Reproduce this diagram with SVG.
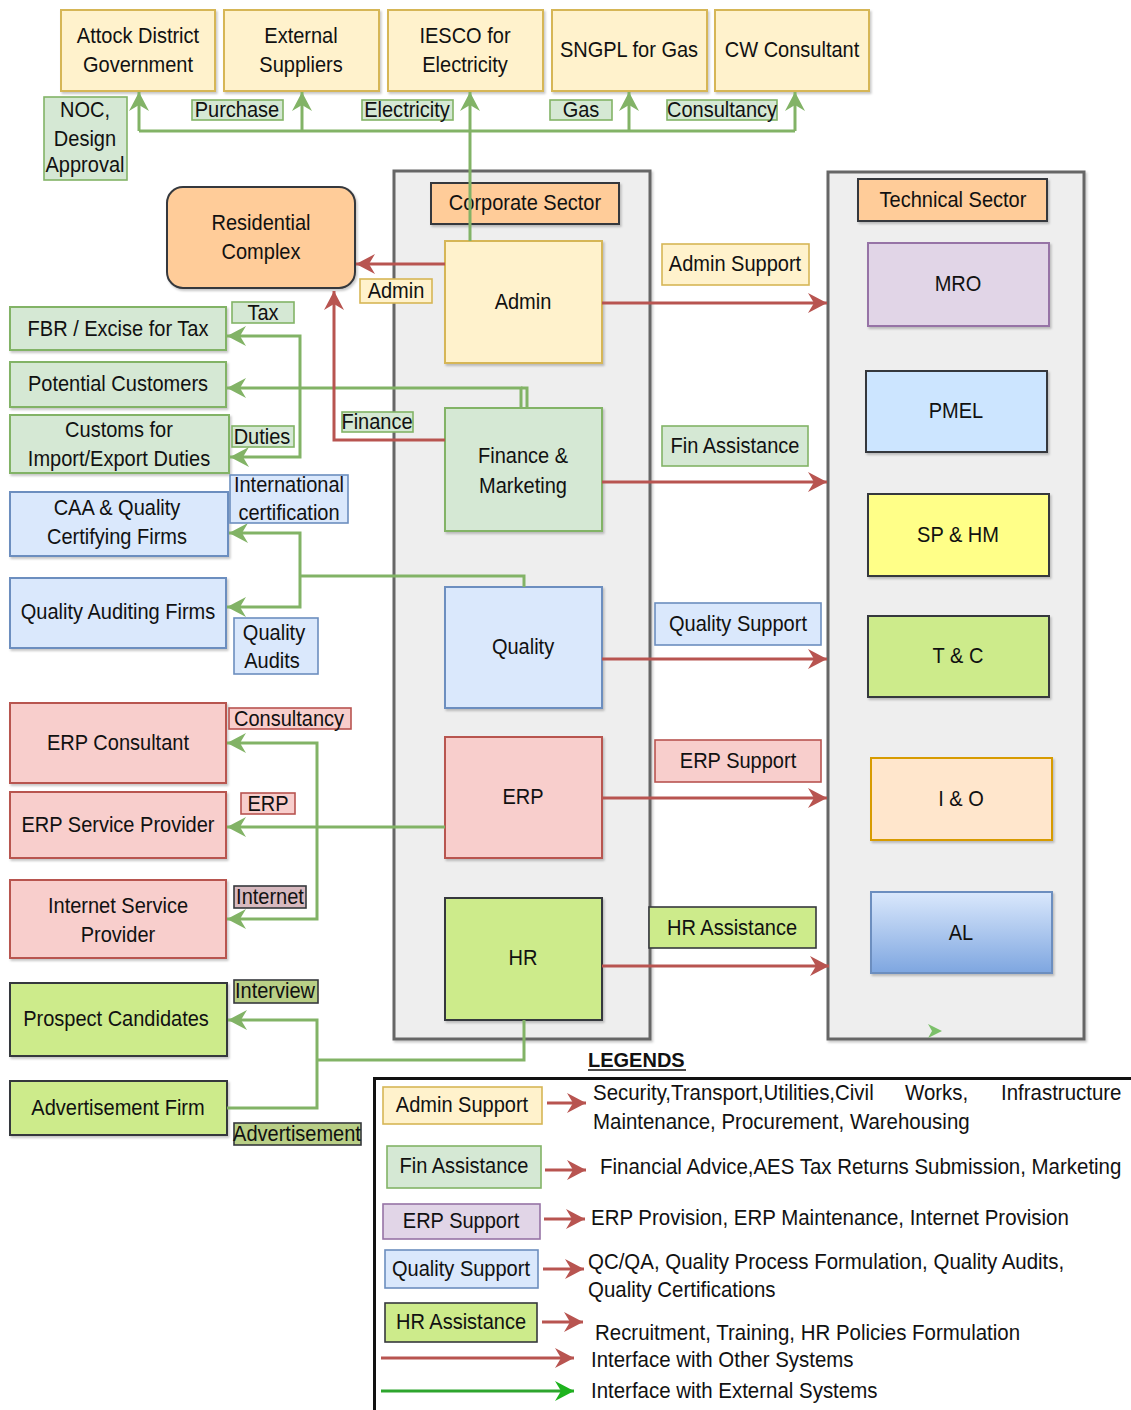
<svg xmlns="http://www.w3.org/2000/svg" width="1131" height="1410" viewBox="0 0 1131 1410">
  <defs>
    <marker id="ah-red" markerUnits="userSpaceOnUse" viewBox="-20 -11 22 22" markerWidth="22" markerHeight="22" refX="0" refY="0" orient="auto">
      <path d="M0,0 L-19,-10 L-13,0 L-19,10 Z" fill="#B85450"/>
    </marker>
    <marker id="ah-green" markerUnits="userSpaceOnUse" viewBox="-20 -11 22 22" markerWidth="22" markerHeight="22" refX="0" refY="0" orient="auto">
      <path d="M0,0 L-19,-10 L-13,0 L-19,10 Z" fill="#82B366"/>
    </marker>
    <marker id="ah-bright" markerUnits="userSpaceOnUse" viewBox="-20 -11 22 22" markerWidth="22" markerHeight="22" refX="0" refY="0" orient="auto">
      <path d="M0,0 L-19,-10 L-13,0 L-19,10 Z" fill="#1DB31D"/>
    </marker>
    <linearGradient id="al-grad" x1="0" y1="0" x2="0" y2="1">
      <stop offset="0" stop-color="#DAE8FC"/>
      <stop offset="1" stop-color="#7EA6E0"/>
    </linearGradient>
    <filter id="sh" x="-10%" y="-10%" width="120%" height="130%">
      <feDropShadow dx="1.5" dy="2" stdDeviation="1.2" flood-color="#000" flood-opacity="0.22"/>
    </filter>
  </defs>
  <style>
    .box { stroke-width: 2; filter: url(#sh); }
    .lab { stroke-width: 1.6; }
    .yel { fill: #FFF2CC; stroke: #D6B656; }
    .grn { fill: #D5E8D4; stroke: #82B366; }
    .blu { fill: #DAE8FC; stroke: #6C8EBF; }
    .red { fill: #F8CECC; stroke: #B85450; }
    .lim { fill: #CDEB8B; stroke: #36393D; }
    .org { fill: #FFCC99; stroke: #36393D; }
    .pur { fill: #E1D5E7; stroke: #9673A6; }
    .sky { fill: #CCE5FF; stroke: #36393D; }
    .lem { fill: #FFFF88; stroke: #36393D; }
    .peach { fill: #FFE6CC; stroke: #D79B00; }
    .sec { fill: #EEEEEE; stroke: #666666; stroke-width: 3; filter: url(#sh); }
    .t { font-family: "Liberation Sans", Arial, sans-serif; font-size: 22px; fill: #111; text-anchor: middle;
         transform-box: fill-box; transform-origin: center; transform: scaleX(0.91); }
    .l { text-anchor: start; transform-origin: left center; transform: scaleX(0.93); }
    .hd { font-family: "Liberation Sans", Arial, sans-serif; font-size: 20px; font-weight: bold; fill: #111; }
    .ge { fill: none; stroke: #82B366; stroke-width: 3; }
    .re { fill: none; stroke: #B85450; stroke-width: 3; }
  </style>

  <rect width="1131" height="1410" fill="#FFFFFF"/>

  <!-- sector containers -->
  <g id="n-corporate">
    <rect class="sec" x="394" y="171" width="256" height="868"/>
    <rect class="box org" x="431" y="183" width="188" height="41"/>
    <text class="t" x="525" y="210">Corporate Sector</text>
  </g>
  <g id="n-technical">
    <rect class="sec" x="828" y="172" width="256" height="867"/>
    <rect class="box org" x="858" y="179" width="189" height="42"/>
    <text class="t" x="953" y="207">Technical Sector</text>
  </g>

  <!-- external parties along the top -->
  <g id="n-attock">
    <rect class="box yel" x="61" y="10" width="154" height="81"/>
    <text class="t" x="138" y="43">Attock District</text>
    <text class="t" x="138" y="72">Government</text>
  </g>
  <g id="n-external">
    <rect class="box yel" x="224" y="10" width="155" height="81"/>
    <text class="t" x="301" y="43">External</text>
    <text class="t" x="301" y="72">Suppliers</text>
  </g>
  <g id="n-iesco">
    <rect class="box yel" x="388" y="10" width="155" height="81"/>
    <text class="t" x="465" y="43">IESCO for</text>
    <text class="t" x="465" y="72">Electricity</text>
  </g>
  <g id="n-sngpl">
    <rect class="box yel" x="552" y="10" width="155" height="81"/>
    <text class="t" x="629" y="57">SNGPL for Gas</text>
  </g>
  <g id="n-cw">
    <rect class="box yel" x="715" y="10" width="154" height="81"/>
    <text class="t" x="792" y="57">CW Consultant</text>
  </g>

  <g id="n-residential">
    <rect class="box org" x="167" y="187" width="188" height="101" rx="16" ry="16"/>
    <text class="t" x="261" y="230">Residential</text>
    <text class="t" x="261" y="259">Complex</text>
  </g>

  <!-- corporate departments -->
  <g id="n-admin">
    <rect class="box yel" x="445" y="241" width="157" height="122"/>
    <text class="t" x="523" y="309">Admin</text>
  </g>
  <g id="n-finance">
    <rect class="box grn" x="445" y="408" width="157" height="123"/>
    <text class="t" x="523" y="463">Finance &amp;</text>
    <text class="t" x="523" y="493">Marketing</text>
  </g>
  <g id="n-quality">
    <rect class="box blu" x="445" y="587" width="157" height="121"/>
    <text class="t" x="523" y="654">Quality</text>
  </g>
  <g id="n-erp">
    <rect class="box red" x="445" y="737" width="157" height="121"/>
    <text class="t" x="523" y="804">ERP</text>
  </g>
  <g id="n-hr">
    <rect class="box lim" x="445" y="898" width="157" height="122"/>
    <text class="t" x="523" y="965">HR</text>
  </g>

  <!-- technical units -->
  <g id="n-mro">
    <rect class="box pur" x="868" y="243" width="181" height="83"/>
    <text class="t" x="958" y="291">MRO</text>
  </g>
  <g id="n-pmel">
    <rect class="box sky" x="866" y="371" width="181" height="81"/>
    <text class="t" x="956" y="418">PMEL</text>
  </g>
  <g id="n-sphm">
    <rect class="box lem" x="868" y="494" width="181" height="82"/>
    <text class="t" x="958" y="542">SP &amp; HM</text>
  </g>
  <g id="n-tc">
    <rect class="box lim" x="868" y="616" width="181" height="81"/>
    <text class="t" x="958" y="663">T &amp; C</text>
  </g>
  <g id="n-io">
    <rect class="box peach" x="871" y="758" width="181" height="82"/>
    <text class="t" x="961" y="806">I &amp; O</text>
  </g>
  <g id="n-al">
    <rect class="box" x="871" y="892" width="181" height="81" fill="url(#al-grad)" stroke="#6C8EBF"/>
    <text class="t" x="961" y="940">AL</text>
  </g>

  <!-- outside parties on the left -->
  <g id="n-fbr">
    <rect class="box grn" x="10" y="307" width="216" height="43"/>
    <text class="t" x="118" y="336">FBR / Excise for Tax</text>
  </g>
  <g id="n-potential">
    <rect class="box grn" x="10" y="362" width="216" height="45"/>
    <text class="t" x="118" y="391">Potential Customers</text>
  </g>
  <g id="n-customs">
    <rect class="box grn" x="10" y="415" width="219" height="58"/>
    <text class="t" x="119" y="437">Customs for</text>
    <text class="t" x="119" y="466">Import/Export Duties</text>
  </g>
  <g id="n-caa">
    <rect class="box blu" x="10" y="492" width="218" height="64"/>
    <text class="t" x="117" y="515">CAA &amp; Quality</text>
    <text class="t" x="117" y="544">Certifying Firms</text>
  </g>
  <g id="n-qaf">
    <rect class="box blu" x="10" y="578" width="216" height="70"/>
    <text class="t" x="118" y="619">Quality Auditing Firms</text>
  </g>
  <g id="n-erpc">
    <rect class="box red" x="10" y="703" width="216" height="80"/>
    <text class="t" x="118" y="750">ERP Consultant</text>
  </g>
  <g id="n-erpsp">
    <rect class="box red" x="10" y="792" width="216" height="66"/>
    <text class="t" x="118" y="832">ERP Service Provider</text>
  </g>
  <g id="n-isp">
    <rect class="box red" x="10" y="880" width="216" height="78"/>
    <text class="t" x="118" y="913">Internet Service</text>
    <text class="t" x="118" y="942">Provider</text>
  </g>
  <g id="n-prospect">
    <rect class="box lim" x="10" y="983" width="217" height="73"/>
    <text class="t" x="116" y="1026">Prospect Candidates</text>
  </g>
  <g id="n-adfirm">
    <rect class="box lim" x="10" y="1081" width="217" height="54"/>
    <text class="t" x="118" y="1115">Advertisement Firm</text>
  </g>

  <!-- connectors -->
  <g id="connectors">
    <!-- external interfaces (green) -->
    <path class="ge" d="M470,241 V92" marker-end="url(#ah-green)"/>
    <path class="ge" d="M139,131 H795"/>
    <path class="ge" d="M139,131 V92" marker-end="url(#ah-green)"/>
    <path class="ge" d="M302,131 V92" marker-end="url(#ah-green)"/>
    <path class="ge" d="M629,131 V92" marker-end="url(#ah-green)"/>
    <path class="ge" d="M795,131 V92" marker-end="url(#ah-green)"/>

    <path class="ge" d="M521,408 V388 H227" marker-end="url(#ah-green)"/>
    <path class="ge" d="M527,408 V388 H521"/>
    <path class="ge" d="M300,388 V336 H227" marker-end="url(#ah-green)"/>
    <path class="ge" d="M300,388 V457 H230" marker-end="url(#ah-green)"/>

    <path class="ge" d="M524,587 V576 H300"/>
    <path class="ge" d="M300,576 V533 H229" marker-end="url(#ah-green)"/>
    <path class="ge" d="M300,576 V607 H227" marker-end="url(#ah-green)"/>

    <path class="ge" d="M445,827 H227" marker-end="url(#ah-green)"/>
    <path class="ge" d="M317,827 V743 H227" marker-end="url(#ah-green)"/>
    <path class="ge" d="M317,827 V919 H227" marker-end="url(#ah-green)"/>

    <path class="ge" d="M524,1020 V1060 H317"/>
    <path class="ge" d="M317,1060 V1020 H228" marker-end="url(#ah-green)"/>
    <path class="ge" d="M317,1060 V1108 H227"/>

    <path d="M928,1024 L942,1031 L928,1038 L932,1031 Z" fill="#7CC06A"/>

    <!-- internal interfaces (red) -->
    <path class="re" d="M445,264 H356" marker-end="url(#ah-red)"/>
    <path class="re" d="M445,440 H334 V291" marker-end="url(#ah-red)"/>
    <path class="re" d="M602,303 H827" marker-end="url(#ah-red)"/>
    <path class="re" d="M602,482 H827" marker-end="url(#ah-red)"/>
    <path class="re" d="M602,659 H827" marker-end="url(#ah-red)"/>
    <path class="re" d="M602,798 H827" marker-end="url(#ah-red)"/>
    <path class="re" d="M602,966 H829" marker-end="url(#ah-red)"/>
  </g>

  <!-- connector labels -->
  <g id="labels">
    <rect class="lab grn" x="44" y="97" width="83" height="83"/>
    <text class="t" x="85" y="117">NOC,</text>
    <text class="t" x="85" y="146">Design</text>
    <text class="t" x="85" y="172">Approval</text>

    <rect class="lab grn" x="192" y="100" width="91" height="20"/>
    <text class="t" x="237" y="117">Purchase</text>
    <rect class="lab grn" x="362" y="100" width="91" height="20"/>
    <text class="t" x="407" y="117">Electricity</text>
    <rect class="lab grn" x="550" y="100" width="62" height="20"/>
    <text class="t" x="581" y="117">Gas</text>
    <rect class="lab grn" x="667" y="100" width="110" height="20"/>
    <text class="t" x="722" y="117">Consultancy</text>

    <rect class="lab yel" x="360" y="279" width="72" height="24"/>
    <text class="t" x="396" y="298">Admin</text>
    <rect class="lab grn" x="342" y="412" width="71" height="20"/>
    <text class="t" x="377" y="429">Finance</text>

    <rect class="lab grn" x="232" y="302" width="62" height="21"/>
    <text class="t" x="263" y="320">Tax</text>
    <rect class="lab grn" x="232" y="426" width="62" height="21"/>
    <text class="t" x="262" y="444">Duties</text>

    <rect class="lab blu" x="230" y="475" width="118" height="48"/>
    <text class="t" x="289" y="492">International</text>
    <text class="t" x="289" y="520">certification</text>
    <rect class="lab blu" x="234" y="618" width="84" height="56"/>
    <text class="t" x="274" y="640">Quality</text>
    <text class="t" x="272" y="668">Audits</text>

    <rect class="lab red" x="229" y="708" width="122" height="21"/>
    <text class="t" x="289" y="726">Consultancy</text>
    <rect class="lab red" x="241" y="793" width="54" height="21"/>
    <text class="t" x="268" y="811">ERP</text>
    <rect class="lab" x="234" y="886" width="72" height="22" fill="#D7B9BF" stroke="#36393D"/>
    <text class="t" x="270" y="904">Internet</text>

    <rect class="lab" x="234" y="980" width="84" height="23" fill="#B9CF86" stroke="#36393D"/>
    <text class="t" x="275" y="998">Interview</text>
    <rect class="lab" x="234" y="1123" width="127" height="22" fill="#B9CF86" stroke="#36393D"/>
    <text class="t" x="297" y="1141">Advertisement</text>

    <rect class="lab yel" x="662" y="244" width="147" height="41"/>
    <text class="t" x="735" y="271">Admin Support</text>
    <rect class="lab grn" x="662" y="426" width="146" height="40"/>
    <text class="t" x="735" y="453">Fin Assistance</text>
    <rect class="lab blu" x="655" y="603" width="166" height="42"/>
    <text class="t" x="738" y="631">Quality Support</text>
    <rect class="lab red" x="655" y="740" width="166" height="42"/>
    <text class="t" x="738" y="768">ERP Support</text>
    <rect class="lab lim" x="649" y="907" width="167" height="41"/>
    <text class="t" x="732" y="935">HR Assistance</text>
  </g>

  <!-- key -->
  <g id="legend">
    <text class="hd" x="588" y="1067">LEGENDS</text>
    <line x1="588" y1="1070" x2="686" y2="1070" stroke="#111" stroke-width="1.5"/>
    <rect x="374.5" y="1078.5" width="800" height="400" fill="none" stroke="#111" stroke-width="3"/>

    <rect class="lab yel" x="383" y="1087" width="159" height="37"/>
    <text class="t" x="462" y="1112">Admin Support</text>
    <path class="re" d="M547,1103 H586" marker-end="url(#ah-red)"/>
    <text class="t l" x="593" y="1100">Security,Transport,Utilities,Civil</text>
    <text class="t l" x="905" y="1100">Works,</text>
    <text class="t l" x="1001" y="1100">Infrastructure</text>
    <text class="t l" x="593" y="1129">Maintenance, Procurement, Warehousing</text>

    <rect class="lab grn" x="387" y="1146" width="154" height="42"/>
    <text class="t" x="464" y="1173">Fin Assistance</text>
    <path class="re" d="M545,1170 H586" marker-end="url(#ah-red)"/>
    <text class="t l" x="600" y="1174">Financial Advice,AES Tax Returns Submission, Marketing</text>

    <rect class="lab pur" x="383" y="1204" width="157" height="35"/>
    <text class="t" x="461" y="1228">ERP Support</text>
    <path class="re" d="M544,1219 H585" marker-end="url(#ah-red)"/>
    <text class="t l" x="591" y="1225">ERP Provision, ERP Maintenance, Internet Provision</text>

    <rect class="lab blu" x="385" y="1250" width="153" height="38"/>
    <text class="t" x="461" y="1276">Quality Support</text>
    <path class="re" d="M543,1269 H584" marker-end="url(#ah-red)"/>
    <text class="t l" x="588" y="1269">QC/QA, Quality Process Formulation, Quality Audits,</text>
    <text class="t l" x="588" y="1297">Quality Certifications</text>

    <rect class="lab lim" x="385" y="1303" width="152" height="39"/>
    <text class="t" x="461" y="1329">HR Assistance</text>
    <path class="re" d="M542,1322 H583" marker-end="url(#ah-red)"/>
    <text class="t l" x="595" y="1340">Recruitment, Training, HR Policies Formulation</text>

    <path class="re" d="M381,1358 H574" marker-end="url(#ah-red)"/>
    <text class="t l" x="591" y="1367">Interface with Other Systems</text>

    <path d="M381,1391 H574" fill="none" stroke="#2EA52E" stroke-width="3" marker-end="url(#ah-bright)"/>
    <text class="t l" x="591" y="1398">Interface with External Systems</text>
  </g>
</svg>
